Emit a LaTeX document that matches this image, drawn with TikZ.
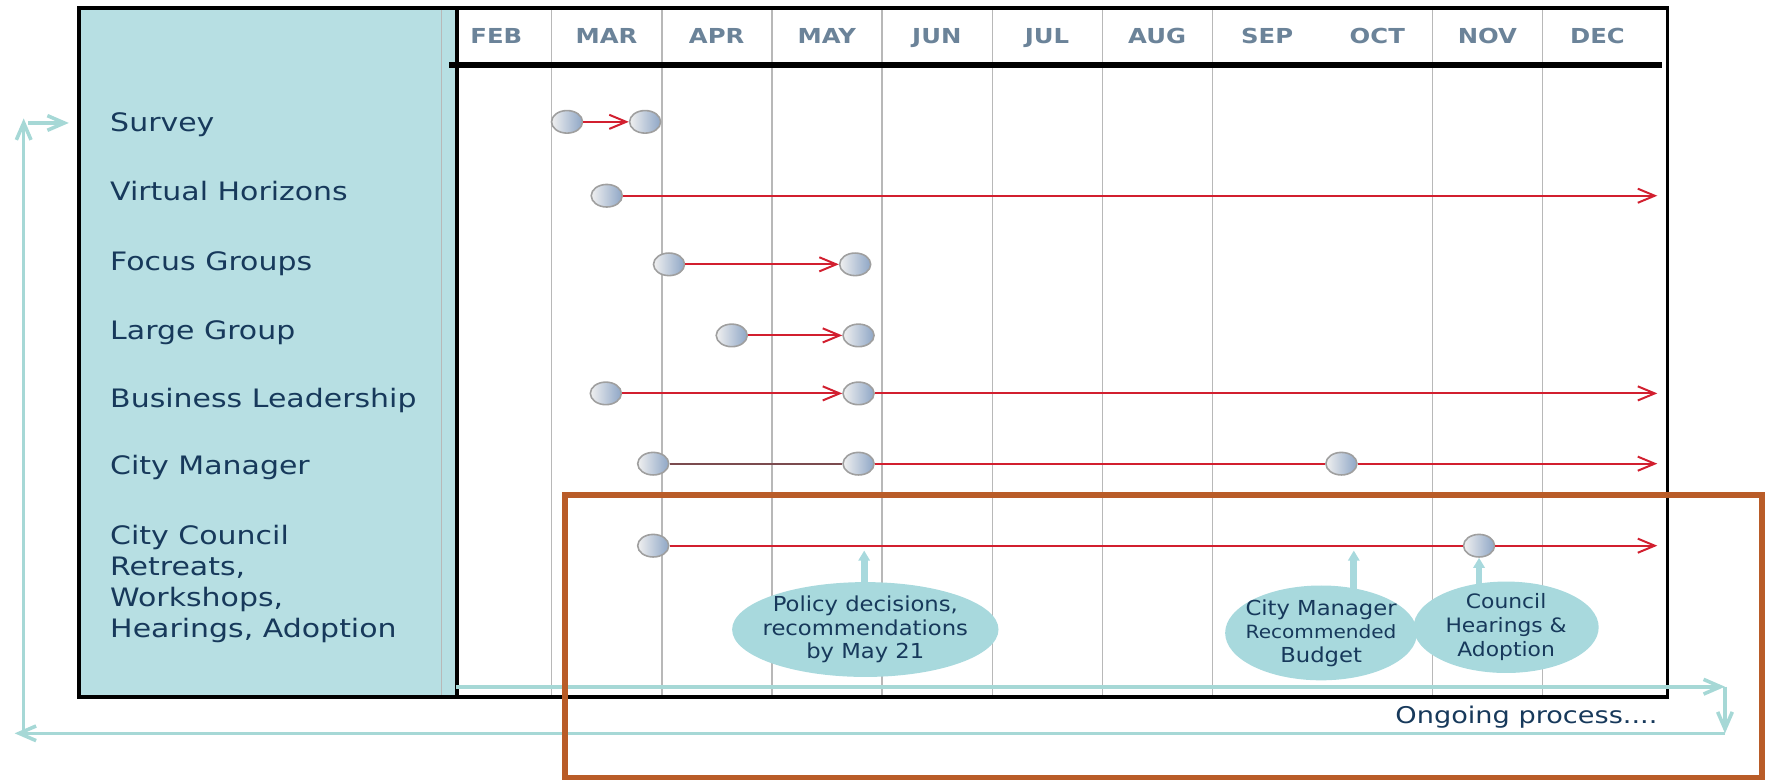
\documentclass[tikz,border=0pt]{standalone}
\usepackage{fontspec}
\usepackage{tikz}
\usetikzlibrary{shapes,positioning,calc}
\usetikzlibrary{shapes.geometric}
\usetikzlibrary{arrows.meta}
\newfontfamily\labelfont[FakeStretch=1.18]{DejaVu Sans}
\newfontfamily\notefont[FakeStretch=1.1]{DejaVu Sans}
\definecolor{panelblue}{HTML}{B7DFE3}
\definecolor{bubbleteal}{HTML}{A8D9DD}
\definecolor{loopteal}{HTML}{A6D8D6}
\definecolor{navytext}{HTML}{17395B}
\definecolor{slatetext}{HTML}{6B8399}
\definecolor{redline}{HTML}{D21F2F}
\definecolor{darkline}{HTML}{7B4B4F}
\definecolor{gridgray}{HTML}{B8B8B8}
\definecolor{frameorange}{HTML}{B95C28}
\definecolor{dotblue}{HTML}{8EA6C6}
\tikzstyle{month} = [anchor=base, inner sep=0pt, text=slatetext, font=\labelfont\bfseries\fontsize{5.2}{6}\selectfont]
\tikzstyle{task} = [anchor=base west, inner sep=0pt, text=navytext, align=left, font=\labelfont\fontsize{6.4}{7.77}\selectfont]
\tikzstyle{dot} = [ellipse, minimum width=2.75mm, minimum height=2mm, inner sep=0pt, draw=gray!75, line width=0.4pt, left color=gray!12, right color=dotblue]
\tikzstyle{arrow} = [line width=0.5pt, draw=redline, ->, >={Straight Barb[length=1.5mm,width=1.25mm]}]
\tikzstyle{segment} = [line width=0.5pt, draw=redline]
\tikzstyle{callout} = [ellipse, fill=bubbleteal, inner xsep=-2mm, inner ysep=-1.5mm, align=center, text=navytext, font=\notefont\fontsize{5.2}{5.9}\selectfont]
\tikzstyle{stem} = [line width=1.7pt, draw=bubbleteal, -{Triangle[length=0.9mm,width=1mm]}]
\tikzstyle{ongoing} = [line width=0.9pt, draw=loopteal, ->, >={Straight Barb[length=1.5mm,width=1.3mm]}]
\tikzstyle{monthline} = [draw=gridgray, line width=0.35pt]

\begin{document}
\begin{tikzpicture}[x=0.01cm, y=-0.01cm]
	\useasboundingbox (0,0) rectangle (1568,691);
	\fill[panelblue] (70,7) rectangle (405,617.6);
	\draw[monthline] (391.5,7) -- (391.5,617.6);
	\draw[monthline] (489.1,7) -- (489.1,617.6);
	\draw[monthline] (586.7,7) -- (586.7,617.6);
	\draw[monthline] (684.3,7) -- (684.3,617.6);
	\draw[monthline] (781.9,7) -- (781.9,617.6);
	\draw[monthline] (879.5,7) -- (879.5,617.6);
	\draw[monthline] (977.1,7) -- (977.1,617.6);
	\draw[monthline] (1074.7,7) -- (1074.7,617.6);
	\draw[monthline] (1269.9,7) -- (1269.9,617.6);
	\draw[monthline] (1367.5,7) -- (1367.5,617.6);
	\draw[line width=0.9pt] (70,7) rectangle (1478,617.6);
	\draw[line width=1.1pt] (405,7) -- (405,617.6);
	\draw[line width=1.4pt] (398,57.6) -- (1473,57.6);

	\node[month] (feb) at (440,39) {FEB};
	\node[month] (mar) at (537.6,39) {MAR};
	\node[month] (apr) at (635.2,39) {APR};
	\node[month] (may) at (732.8,39) {MAY};
	\node[month] (jun) at (830.4,39) {JUN};
	\node[month] (jul) at (928,39) {JUL};
	\node[month] (aug) at (1025.6,39) {AUG};
	\node[month] (sep) at (1123.2,39) {SEP};
	\node[month] (oct) at (1220.8,39) {OCT};
	\node[month] (nov) at (1318.4,39) {NOV};
	\node[month] (dec) at (1416,39) {DEC};

	\coordinate (lstart) at (404,608.7);
	\coordinate (lne) at (1529,608.7);
	\coordinate (lse) at (1529,650);
	\coordinate (lsw) at (13,650);
	\coordinate (lupa) at (21,650);
	\coordinate (lupb) at (21,105);
	\coordinate (lina) at (25,109);
	\coordinate (linb) at (61,109);
	\draw[ongoing] (lstart) -- (lne);
	\draw[ongoing] (lne) -- (lse);
	\draw[ongoing] (lse) -- (lsw);
	\draw[ongoing] (lupa) -- (lupb);
	\draw[ongoing] (lina) -- (linb);

	\node[task] (survey) at (97,117) {Survey};
	\node[task] (virtual) at (97,178) {Virtual Horizons};
	\node[task] (focus) at (97,240) {Focus Groups};
	\node[task] (large) at (97,301) {Large Group};
	\node[task] (business) at (97,361) {Business Leadership};
	\node[task] (manager) at (97,421) {City Manager};
	\node[task, anchor=north west] (council) at (97,465) {City Council\\Retreats,\\Workshops,\\Hearings, Adoption};

	\node[dot] (s1) at (502.6,108) {};
	\node[dot] (s2) at (571.8,108) {};
	\node[dot] (v1) at (537.8,173.5) {};
	\node[dot] (f1) at (593,234.3) {};
	\node[dot] (f2) at (758,234.3) {};
	\node[dot] (g1) at (648.6,297.3) {};
	\node[dot] (g2) at (761,297.3) {};
	\node[dot] (b1) at (537,348.7) {};
	\node[dot] (b2) at (761,348.7) {};
	\node[dot] (m1) at (579,411) {};
	\node[dot] (m2) at (761,411) {};
	\node[dot] (m3) at (1189,411) {};
	\node[dot] (c1) at (579,483.7) {};
	\node[dot] (c2) at (1311,483.7) {};
	\coordinate (vend) at (1469,173.5);
	\coordinate (bend) at (1469,348.7);
	\coordinate (mend) at (1469,411);
	\coordinate (cend) at (1469,483.7);

	\draw[arrow] (s1) -- (s2);
	\draw[arrow] (v1) -- (vend);
	\draw[arrow] (f1) -- (f2);
	\draw[arrow] (g1) -- (g2);
	\draw[arrow] (b1) -- (b2);
	\draw[arrow] (b2) -- (bend);
	\draw[segment, draw=darkline] (m1) -- (m2);
	\draw[segment] (m2) -- (m3);
	\draw[arrow] (m3) -- (mend);
	\draw[segment] (c1) -- (c2);
	\draw[arrow] (c2) -- (cend);

	\node[callout, minimum width=2.36cm, minimum height=0.84cm] (policy) at (767,558) {Policy decisions,\\recommendations\\by May 21};
	\node[callout, minimum width=1.7cm, minimum height=0.84cm] (budget) at (1171,561) {City Manager\\{\fontsize{4.6}{5.9}\selectfont Recommended}\\Budget};
	\node[callout, minimum width=1.64cm, minimum height=0.81cm, font=\notefont\fontsize{5}{6.1}\selectfont] (hearing) at (1335,556) {Council\\Hearings \&\\Adoption};
	\coordinate (policytip) at (766,488);
	\coordinate (budgettip) at (1200,488);
	\draw[stem, shorten <=-1mm] (policytip |- policy.north) -- (policytip);
	\draw[stem, shorten <=-1mm] (budgettip |- budget.north) -- (budgettip);
	\draw[stem, shorten <=-1mm] (c2 |- hearing.north) -- (c2);

	\node[anchor=base, inner sep=0pt, text=navytext, font=\labelfont\fontsize{5.8}{7}\selectfont] (process) at (1353,641) {Ongoing process....};

	\draw[frameorange, line width=1.5pt] (500.8,438.4) rectangle (1562,689.5);
\end{tikzpicture}
\end{document}
